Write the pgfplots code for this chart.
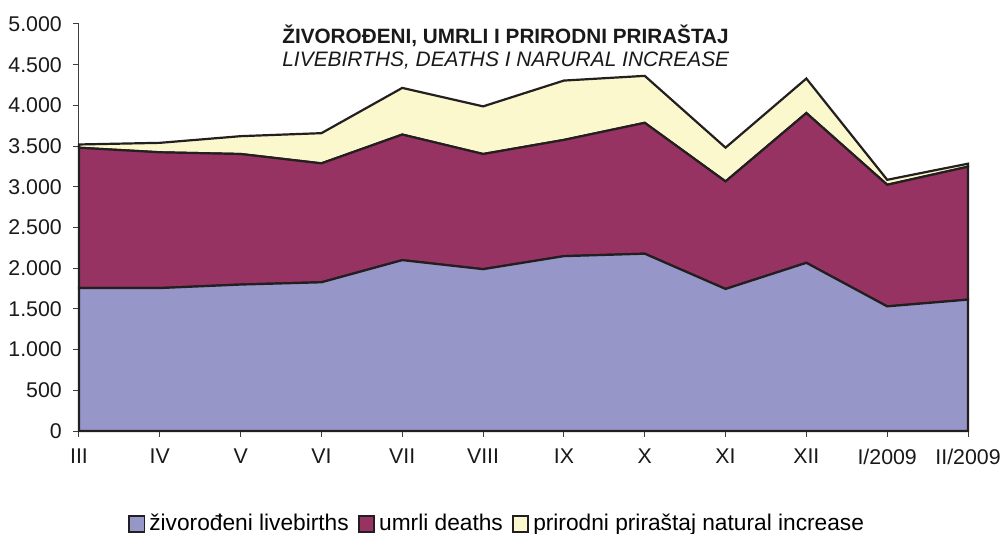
\documentclass[border=0pt]{standalone}
\usepackage{fontspec}
\setmainfont{Liberation Sans}
\usepackage{pgfplots}
\usepackage{pgfplotstable}
\pgfplotsset{compat=1.18}
\definecolor{lav}{RGB}{150,150,200}
\definecolor{plum}{RGB}{150,51,98}
\definecolor{cream}{RGB}{252,248,205}
\definecolor{linec}{RGB}{35,31,32}
\definecolor{axc}{RGB}{60,60,60}
\pgfplotstableread{
x b d n
0 1758 1722 40
1 1756 1668 116
2 1799 1604 219
3 1827 1461 371
4 2099 1543 573
5 1988 1415 585
6 2148 1428 729
7 2178 1608 577
8 1745 1321 415
9 2066 1840 424
10 1531 1494 61
11 1614 1633 37
}\data
\begin{document}
\begin{tikzpicture}
\begin{axis}[name=ax,
  scale only axis, width=444.5bp, height=203.5bp,
  xmin=0, xmax=11, ymin=0, ymax=5000,
  xtick={0,...,11},
  xticklabels={III,IV,V,VI,VII,VIII,IX,X,XI,XII,I/2009,II/2009},
  ytick={0,500,...,5000},
  axis lines*=left,
  axis line style={axc, line width=0.5bp},
  tick style={axc, line width=0.5bp},
  tick align=outside,
  major tick length=2.8bp,
  /pgf/number format/1000 sep={.},
  /pgf/number format/assume math mode=true,
  tick label style={font=\fontsize{10.7}{12}\selectfont, text=black!90},
  yticklabel style={xshift=-2.3bp},
  xticklabel style={yshift=-2.5bp},
  stack plots=y,
  clip=false,
  legend columns=3,
  legend style={at={(rel axis cs:0.4713,-0.2285)}, anchor=center, draw=none,
    font=\fontsize{11.4}{13}\selectfont,
    /tikz/every even column/.append style={column sep=2.5bp},
    /tikz/every odd column/.append style={column sep=0bp}},
  legend image code/.code={\draw[#1, draw=linec, line width=0.9bp] (0bp,-3.9bp) rectangle (7.8bp,3.9bp);},
]
\addplot[fill=lav, draw=linec, line width=1.1bp] table[x=x, y=b] {\data} \closedcycle;
\addlegendentry{živorođeni livebirths}
\addplot[fill=plum, draw=linec, line width=1.1bp] table[x=x, y=d] {\data} \closedcycle;
\addlegendentry{umrli deaths}
\addplot[fill=cream, draw=linec, line width=1.1bp] table[x=x, y=n] {\data} \closedcycle;
\addlegendentry{prirodni priraštaj natural increase}
\node[anchor=base west, font=\bfseries\fontsize{10.4}{12}\selectfont, inner sep=0pt, text=black!90] at (rel axis cs:0.2283,0.9526) {ŽIVOROĐENI, UMRLI I PRIRODNI PRIRAŠTAJ};
\node[anchor=base west, font=\itshape\fontsize{10.5}{12}\selectfont, inner sep=0pt, text=black!90] at (rel axis cs:0.2283,0.8951) {LIVEBIRTHS, DEATHS I NARURAL INCREASE};
\end{axis}
\pgfresetboundingbox
\path[use as bounding box] (ax.south west) ++(-39.5bp,-51.5bp) rectangle ++(501bp,267bp);
\end{tikzpicture}
\end{document}
